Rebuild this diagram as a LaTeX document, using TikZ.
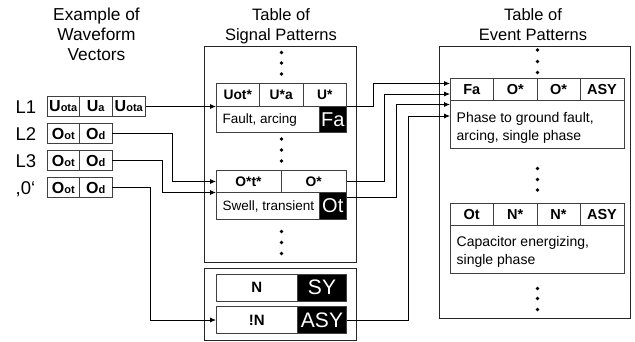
\documentclass[tikz,border=0pt]{standalone}
\usepackage{fontspec}
\setmainfont{Liberation Sans}
\usetikzlibrary{arrows.meta,calc}
\newcommand\wvec[2]{{\fontsize{16}{16}\selectfont\bfseries #1}{\fontsize{11}{11}\selectfont\bfseries #2}}
\begin{document}
\begin{tikzpicture}[x=1pt,y=-1pt,
 cell/.style={draw=black!75,line width=0.8pt,inner sep=0pt,outer sep=0pt,anchor=north west},
 blk/.style={cell,fill=black,text=white,font=\fontsize{20}{20}\selectfont},
 hd/.style={cell,font=\fontsize{13.8}{13.8}\selectfont\bfseries},
 ehd/.style={cell,font=\fontsize{14.5}{14.5}\selectfont\bfseries},
 frame/.style={draw=black!85,line width=1pt,inner sep=0pt,outer sep=0pt,anchor=north west},
 conn/.style={line width=0.8pt},
 arr/.style={conn,-{Latex[length=6pt,width=5pt]}},
 dot/.style={circle,fill=black,inner sep=0pt,minimum size=3.8pt},
 ttl/.style={font=\fontsize{16.5}{20}\selectfont,anchor=base,inner sep=0pt},
 wttl/.style={ttl,font=\fontsize{17.3}{20}\selectfont},
 lab/.style={font=\fontsize{18.5}{20}\selectfont,anchor=base west,inner sep=0pt},
 body/.style={font=\fontsize{13.5}{16}\selectfont,anchor=base west,inner sep=0pt},
 ebody/.style={font=\fontsize{14}{16}\selectfont,anchor=base west,inner sep=0pt},
 nhd/.style={cell,font=\fontsize{15}{15}\selectfont\bfseries},
]
\useasboundingbox (0,0) rectangle (635,341);

% titles
\node[wttl] (t1a) at (96.5,20.7) {Example of};
\node[wttl] (t1b) at (96.5,40.7) {Waveform};
\node[wttl] (t1c) at (96.5,60.7) {Vectors};
\node[ttl] (t2a) at (281,20.7) {Table of};
\node[ttl] (t2b) at (281,40.7) {Signal Patterns};
\node[ttl] (t3a) at (533,20.7) {Table of};
\node[ttl] (t3b) at (533,40.7) {Event Patterns};

% waveform vectors
\node[lab] (l1) at (15.5,113.2) {L1};
\node[lab] (l2) at (15.5,140.2) {L2};
\node[lab] (l3) at (15.5,167.2) {L3};
\node[lab] (l4) at (15.5,194.2) {,0‘};

\node[cell,minimum width=32.5pt,minimum height=19.5pt] (v1a) at (47,96.75) {\wvec{U}{ota}};
\node[cell,minimum width=32.5pt,minimum height=19.5pt] (v1b) at (79.5,96.75) {\wvec{U}{a}};
\node[cell,minimum width=33.5pt,minimum height=19.5pt] (v1c) at (112,96.75) {\wvec{U}{ota}};
\node[cell,minimum width=32.5pt,minimum height=19.5pt] (v2a) at (47,123.75) {\wvec{O}{ot}};
\node[cell,minimum width=32.5pt,minimum height=19.5pt] (v2b) at (79.5,123.75) {\wvec{O}{d}};
\node[cell,minimum width=32.5pt,minimum height=19.5pt] (v3a) at (47,150.75) {\wvec{O}{ot}};
\node[cell,minimum width=32.5pt,minimum height=19.5pt] (v3b) at (79.5,150.75) {\wvec{O}{d}};
\node[cell,minimum width=32.5pt,minimum height=19.5pt] (v4a) at (47,177.75) {\wvec{O}{ot}};
\node[cell,minimum width=32.5pt,minimum height=19.5pt] (v4b) at (79.5,177.75) {\wvec{O}{d}};

% signal table
\node[frame,minimum width=152pt,minimum height=216pt] (sig) at (204.5,46.5) {};
\node[dot] (sd1) at (281.5,52.5) {};
\node[dot] (sd2) at (281.5,63) {};
\node[dot] (sd3) at (281.5,74) {};
\node[hd,minimum width=43.5pt,minimum height=23pt] (s1a) at (216,83.5) {Uot*};
\node[hd,minimum width=43.5pt,minimum height=23pt] (s1b) at (259.5,83.5) {U*a};
\node[hd,minimum width=43.5pt,minimum height=23pt] (s1c) at (303,83.5) {U*};
\node[cell,minimum width=130.5pt,minimum height=26pt] (s1body) at (216,106.5) {};
\node[blk,minimum width=27.5pt,minimum height=26pt] (s1k) at (319,106.5) {Fa};
\node[body] (s1txt) at (222.5,123.3) {Fault, arcing};
\node[dot] (sd4) at (281.5,139) {};
\node[dot] (sd5) at (281.5,150) {};
\node[dot] (sd6) at (281.5,161) {};
\node[hd,minimum width=65pt,minimum height=22pt] (s2a) at (216,170.5) {O*t*};
\node[hd,minimum width=65.5pt,minimum height=22pt] (s2b) at (281,170.5) {O*};
\node[cell,minimum width=130.5pt,minimum height=27pt] (s2body) at (216,192.5) {};
\node[blk,minimum width=27.5pt,minimum height=27pt] (s2k) at (319,192.5) {Ot};
\node[body] (s2txt) at (222.5,210.7) {Swell, transient};
\node[dot] (sd7) at (281.5,231.5) {};
\node[dot] (sd8) at (281.5,242.5) {};
\node[dot] (sd9) at (281.5,253.5) {};

% symmetry table
\node[frame,minimum width=152pt,minimum height=71.5pt] (sym) at (204.5,268.5) {};
\node[nhd,minimum width=81.5pt,minimum height=27pt] (n1a) at (216,274) {N};
\node[blk,minimum width=49pt,minimum height=27pt,font=\fontsize{21}{21}\selectfont] (n1k) at (297.5,274) {SY};
\node[nhd,minimum width=81.5pt,minimum height=27pt] (n2a) at (216,306.5) {!N};
\node[blk,minimum width=49pt,minimum height=27pt,font=\fontsize{21}{21}\selectfont] (n2k) at (297.5,306.5) {ASY};

% event table
\node[frame,minimum width=191pt,minimum height=272pt] (evt) at (439,46.5) {};
\node[dot] (ed1) at (537.5,50) {};
\node[dot] (ed2) at (537.5,61.5) {};
\node[dot] (ed3) at (537.5,72.5) {};
\node[ehd,minimum width=43.5pt,minimum height=21.5pt] (e1a) at (450,78.5) {Fa};
\node[ehd,minimum width=43.5pt,minimum height=21.5pt] (e1b) at (493.5,78.5) {O*};
\node[ehd,minimum width=43pt,minimum height=21.5pt] (e1c) at (537,78.5) {O*};
\node[ehd,minimum width=44pt,minimum height=21.5pt] (e1d) at (580,78.5) {ASY};
\node[cell,minimum width=174pt,minimum height=48.5pt] (e1body) at (450,100) {};
\node[ebody] (e1t1) at (456.5,122.7) {Phase to ground fault,};
\node[ebody] (e1t2) at (456.5,140.2) {arcing, single phase};
\node[dot] (ed4) at (537.5,168.5) {};
\node[dot] (ed5) at (537.5,179.5) {};
\node[dot] (ed6) at (537.5,190) {};
\node[ehd,minimum width=43.5pt,minimum height=21.5pt] (e2a) at (450,203.5) {Ot};
\node[ehd,minimum width=43.5pt,minimum height=21.5pt] (e2b) at (493.5,203.5) {N*};
\node[ehd,minimum width=43pt,minimum height=21.5pt] (e2c) at (537,203.5) {N*};
\node[ehd,minimum width=44pt,minimum height=21.5pt] (e2d) at (580,203.5) {ASY};
\node[cell,minimum width=174pt,minimum height=48.5pt] (e2body) at (450,225) {};
\node[ebody] (e2t1) at (456.5,246.7) {Capacitor energizing,};
\node[ebody] (e2t2) at (456.5,264.2) {single phase};
\node[dot] (ed7) at (537.5,288.5) {};
\node[dot] (ed8) at (537.5,298.5) {};
\node[dot] (ed9) at (537.5,309.5) {};

% connectors: vectors -> signal patterns
\draw[arr] (v1c.east) -- (s1a.south west);
\draw[arr] (v2b.east) -- ++(60.5,0) |- (s2a.west);
\draw[arr] (v3b.east) -- ++(50,0) |- (s2a.south west);
\draw[arr] (v4b.east) -- ++(38.5,0) |- (n2a.west);

% connectors: signal patterns -> event pattern
\draw[arr] (s1c.south east) -- ++(27,0) |- ($(e1a.north west)+(0,5)$);
\draw[arr] (s2b.east) -- ++(38,0) |- ($(e1a.north west)+(0,15.5)$);
\draw[arr] ($(s2k.north east)+(0,5)$) -- ++(49.5,0) |- ($(e1a.north west)+(0,26)$);
\draw[arr] (n2k.east) -- ++(61.5,0) |- ($(e1a.north west)+(0,37.5)$);
\end{tikzpicture}
\end{document}
